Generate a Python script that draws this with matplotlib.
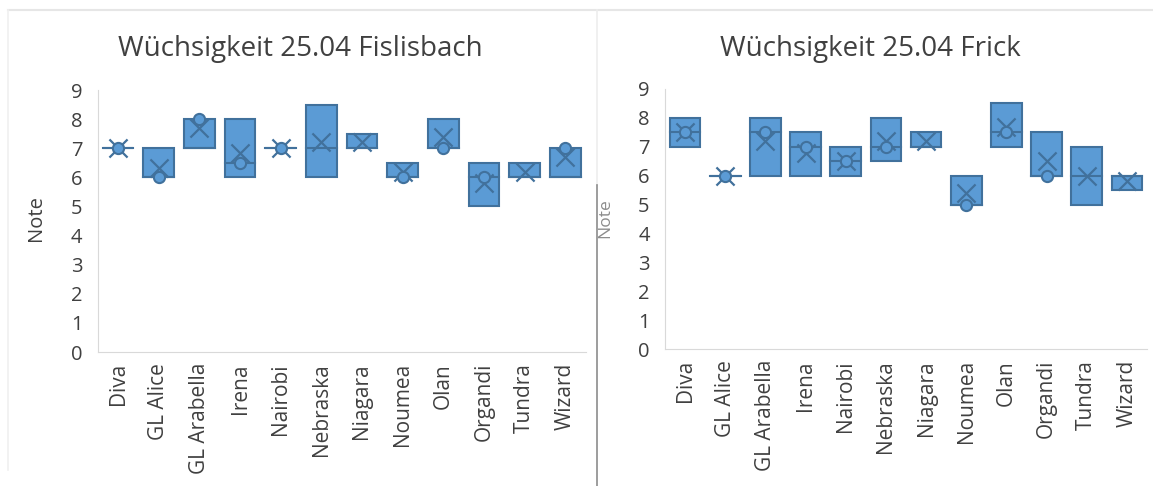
import matplotlib
matplotlib.use("Agg")
import matplotlib.pyplot as plt
from matplotlib.lines import Line2D

plt.rcParams['font.family'] = ['Open Sans', 'DejaVu Sans']

# Sorten (gleich fuer beide Standorte)
sorten = ["Diva", "GL Alice", "GL Arabella", "Irena", "Nairobi", "Nebraska",
          "Niagara", "Noumea", "Olan", "Organdi", "Tundra", "Wizard"]

# Fislisbach: unteres / oberes Quartil, Median, Mittelwert, Punkte
fis_q1 = [7, 6, 7, 6, 7, 6, 7, 6, 7, 5, 6, 6]
fis_q3 = [7, 7, 8, 8, 7, 8.5, 7.5, 6.5, 8, 6.5, 6.5, 7]
fis_median = [7, 6, 7, 6.5, 7, 7, 7, 6, 7, 6, 6, 6]
fis_mean = [7, 6.33, 7.7, 6.85, 7, 7.2, 7.2, 6.2, 7.4, 5.8, 6.2, 6.7]
fis_punkte = [7, 6, 8, 6.5, 7, None, None, 6, 7, 6, None, 7]

# Frick
fri_q1 = [7, 6, 6, 6, 6, 6.5, 7, 5, 7, 6, 5, 5.5]
fri_q3 = [8, 6, 8, 7.5, 7, 8, 7.5, 6, 8.5, 7.5, 7, 6]
fri_median = [7.5, 6, 7.5, 7, 6.5, 7, 7, 5, 7.5, 6, 6, 6]
fri_mean = [7.5, 6, 7.2, 6.8, 6.5, 7.2, 7.2, 5.4, 7.7, 6.5, 6, 5.8]
fri_punkte = [7.5, 6, 7.5, 7, 6.5, 7, None, 5, 7.5, 6, None, None]

fill = "#5B9BD5"
edge = "#41719C"
text_col = "#404040"

fig = plt.figure(figsize=(11.53, 4.86), dpi=100)
W, H = 1153, 486


# Achsen in Pixelkoordinaten: links, oben, rechts, unten
def rect(l, t, r, b):
    return [l / W, 1 - b / H, (r - l) / W, (b - t) / H]


def box_chart(r, titel, titel_x, q1, q3, med, mean, punkte,
              ylabel_color, ylabel_size, ylabel_x):
    ax = fig.add_axes(r)
    x = list(range(len(sorten)))
    breite = 0.76
    hoehe = [b - a for a, b in zip(q1, q3)]
    ax.bar(x, hoehe, bottom=q1, width=breite, color=fill, edgecolor=edge,
           linewidth=1.5, zorder=2)
    for i in x:
        ax.plot([i - breite / 2, i + breite / 2], [med[i], med[i]],
                color=edge, lw=1.5, zorder=3)
    ax.scatter(x, mean, marker="x", s=170, color=edge, linewidths=1.6, zorder=4)
    px = [i for i in x if punkte[i] is not None]
    py = [punkte[i] for i in px]
    ax.scatter(px, py, marker="o", s=65, facecolor=fill, edgecolor=edge,
               linewidths=1.5, zorder=5)
    ax.set_xlim(-0.5, len(sorten) - 0.5)
    ax.set_ylim(0, 9)
    ax.set_yticks(range(10))
    ax.set_xticks(x)
    ax.set_xticklabels(sorten, rotation=90, fontsize=15, color=text_col)
    ax.tick_params(axis="y", labelsize=14.5, colors=text_col, length=0, pad=11)
    ax.tick_params(axis="x", length=0, pad=8)
    for s in ["top", "right"]:
        ax.spines[s].set_visible(False)
    ax.spines["left"].set_color("#D9D9D9")
    ax.spines["bottom"].set_color("#D9D9D9")
    fig.text(titel_x / W, 1 - 49 / H, titel, ha="center", va="center",
             fontsize=20, color=text_col)
    fig.text(ylabel_x / W, 1 - 218 / H, "Note", rotation=90, ha="center",
             va="center", fontsize=ylabel_size, color=ylabel_color)
    return ax


box_chart(rect(97.7, 90, 585.6, 352), "Wüchsigkeit 25.04 Fislisbach", 300,
          fis_q1, fis_q3, fis_median, fis_mean, fis_punkte, text_col, 14.5, 36)
box_chart(rect(665, 89, 1147, 349), "Wüchsigkeit 25.04 Frick", 870,
          fri_q1, fri_q3, fri_median, fri_mean, fri_punkte, "#8C8C8C", 12.5, 605)

# Rahmen / Trennlinien
fig.add_artist(Line2D([8 / W, 1], [1 - 10 / H, 1 - 10 / H], color="#E6E6E6", lw=1.5))
fig.add_artist(Line2D([597 / W, 597 / W], [1 - 10 / H, 1 - 185 / H], color="#EDEDED", lw=1.2))
fig.add_artist(Line2D([597 / W, 597 / W], [0, 1 - 185 / H], color="#8C8C8C", lw=1.2))
fig.add_artist(Line2D([8 / W, 8 / W], [1 - 10 / H, 1 - 470 / H], color="#F0F0F0", lw=1.2))

fig.savefig("out.png", dpi=100, facecolor="white")
